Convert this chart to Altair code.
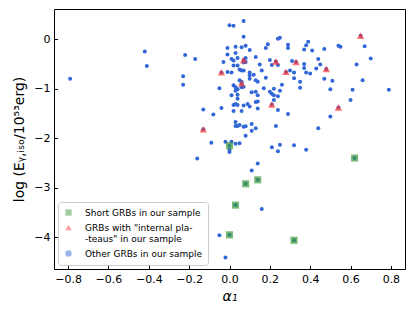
import altair as alt
import pandas as pd

# "Other GRBs in our sample"
blue_x = [-0.79, -0.42, -0.41, -0.22, -0.17, -0.23, -0.23, -0.13, -0.16, -0.08, -0.04, -0.09, -0.05,
          0.00, 0.02, 0.07, 0.07, 0.24, 0.25, 0.19, 0.18, 0.29, 0.29, 0.38, 0.39, 0.37, 0.41, 0.47,
          0.54, 0.55, 0.67, 0.70, 0.63, 0.66, 0.79, 0.61, 0.60, 0.50, 0.44, 0.51, 0.47, 0.50, 0.44,
          0.45, 0.43, 0.40, 0.38, 0.37, 0.37, 0.32, 0.32, 0.35, 0.35, 0.31, 0.30, 0.29, 0.24, 0.23,
          0.32, 0.38, 0.25, 0.24, 0.21, 0.20, 0.21, 0.24, 0.18, 0.26, 0.25, 0.22, 0.20, 0.21, 0.22,
          0.24, 0.22, 0.17, 0.16, 0.15, 0.13, 0.10, 0.08, 0.06, 0.03, 0.03, -0.01, -0.01, -0.03,
          0.01, 0.02, 0.02, 0.04, 0.04, 0.08, 0.08, 0.07, 0.05, 0.06, 0.07, 0.01, -0.01, 0.10, 0.10,
          0.12, 0.10, 0.13, 0.14, 0.05, 0.06, 0.02, 0.03, 0.04, 0.03, 0.04, 0.06, 0.07, 0.01, 0.11,
          0.13, 0.14, 0.13, 0.04, 0.02, 0.03, 0.04, 0.07, 0.09, 0.10, 0.14, 0.14, 0.02, 0.06, 0.03,
          0.04, 0.03, 0.05, 0.07, 0.08, 0.11, 0.13, 0.11, 0.08, -0.02, 0.01, 0.03, 0.05, 0.00, 0.00,
          0.14, 0.11, 0.16, -0.05, -0.02]
blue_y = [-0.80, -0.25, -0.54, -0.32, -0.40, -0.75, -0.92, -1.42, -2.41, -1.52, -1.39, -2.09, -0.99,
          0.28, 0.27, 0.37, 0.05, 0.01, 0.03, -0.10, -0.18, -0.11, -0.18, -0.12, -0.05, -0.21, -0.23, -0.20,
          -0.13, -0.15, -0.14, -0.39, -0.51, -0.83, -1.02, -1.02, -1.23, -1.56, -1.80, -0.84, -0.80, -1.01, -0.40,
          -0.51, -0.59, -0.69, -0.67, -0.50, -0.58, -0.67, -0.79, -0.86, -0.98, -0.44, -0.63, -1.51, -1.43, -1.75,
          -2.14, -2.23, -2.13, -2.26, -2.18, -0.42, -0.52, -0.52, -0.78, -0.92, -1.04, -1.00, -1.06, -1.10, -1.13,
          -1.15, -1.23, -0.99, -0.63, -0.51, -0.36, -0.22, -0.13, -0.16, -0.15, -0.28, -0.18, -0.31, -0.46,
          -0.40, -0.43, -0.53, -0.53, -0.38, -0.38, -0.46, -0.47, -0.61, -0.63, -0.63, -0.67, -0.66, -0.67, -0.73,
          -0.72, -0.80, -0.83, -0.86, -0.83, -0.86, -0.93, -0.97, -1.01, -1.04, -1.12, -0.97, -0.96, -1.13, -1.07,
          -1.06, -1.13, -1.27, -1.20, -1.33, -1.31, -1.33, -1.34, -1.31, -1.36, -1.40, -1.26, -1.45, -1.45, -1.67,
          -1.75, -1.75, -1.73, -1.77, -1.76, -1.71, -1.80, -1.85, -1.95, -2.07, -2.07, -2.11, -2.10, -2.23, -2.28,
          -2.51, -2.65, -3.43, -3.96, -4.41]

# GRBs with "internal plateaus"
red_x = [0.65, 0.07, 0.23, 0.33, 0.48, -0.04, 0.28, 0.06, 0.21, 0.54, -0.13]
red_y = [0.07, -0.42, -0.45, -0.46, -0.60, -0.67, -0.66, -0.89, -1.32, -1.38, -1.82]

# Short GRBs
green_x = [0.00, 0.62, 0.14, 0.08, 0.03, 0.00, 0.32]
green_y = [-2.15, -2.40, -2.84, -2.92, -3.35, -3.95, -4.06]

groups = ["Short GRBs in our sample",
          'GRBs with "internal pla-|-teaus" in our sample',
          "Other GRBs in our sample"]
colors = ["#3c9a3c", "#ff3333", "#3366d6"]
shapes = ["square", "triangle-up", "circle"]
sizes = [50, 55, 16]
opacities = [0.7, 0.7, 1.0]

x_ticks = [-0.8, -0.6, -0.4, -0.2, 0.0, 0.2, 0.4, 0.6, 0.8]
y_ticks = [-4, -3, -2, -1, 0]

rows = []
# whole sample drawn as blue dots first
for xv, yv in zip(blue_x + red_x + green_x, blue_y + red_y + green_y):
    rows.append({"a": xv, "e": yv, "g": groups[2], "s": sizes[2], "op": opacities[2]})
for xv, yv in zip(red_x, red_y):
    rows.append({"a": xv, "e": yv, "g": groups[1], "s": sizes[1], "op": opacities[1]})
for xv, yv in zip(green_x, green_y):
    rows.append({"a": xv, "e": yv, "g": groups[0], "s": sizes[0], "op": opacities[0]})
df = pd.DataFrame(rows)

FONT = "DejaVu Sans"

enc = dict(
    x=alt.X("a:Q",
            scale=alt.Scale(domain=[-0.87, 0.87], nice=False, zero=False),
            axis=alt.Axis(title="α₁", values=x_ticks, format=".1f", grid=False, domain=False,
                          offset=-3.5, tickSize=3.5, tickColor="black", labelPadding=4,
                          labelColor="black", labelFontSize=11, labelFont=FONT,
                          titleFont=FONT, titleFontSize=14, titleFontWeight="normal",
                          titleFontStyle="italic", titleColor="black", titlePadding=5)),
    y=alt.Y("e:Q",
            scale=alt.Scale(domain=[-4.64, 0.61], nice=False, zero=False),
            axis=alt.Axis(title="log (Eᵧ,ᵢₛₒ/10⁵³erg)", values=y_ticks, format="d", grid=False,
                          domain=False, offset=-3.5, tickSize=3.5, tickColor="black",
                          labelPadding=4, labelColor="black", labelFontSize=11, labelFont=FONT,
                          titleFont=FONT, titleFontSize=14, titleFontWeight="normal",
                          titleColor="black", titlePadding=7)),
    color=alt.Color("g:N", title=None,
                    scale=alt.Scale(domain=groups, range=colors),
                    legend=alt.Legend(orient="bottom-left", offset=4, fillColor="white",
                                      strokeColor="#cccccc", cornerRadius=3, padding=6,
                                      labelFont=FONT, labelFontSize=9, labelColor="black",
                                      labelExpr="split(datum.label, '|')",
                                      rowPadding=5, labelOffset=12, symbolStrokeWidth=0,
                                      symbolSize=40, symbolOpacity=0.75)),
    shape=alt.Shape("g:N", title=None, scale=alt.Scale(domain=groups, range=shapes)),
    size=alt.Size("s:Q", scale=None),
    opacity=alt.Opacity("op:Q", scale=None),
)

base = alt.Chart(df).mark_point(filled=True, strokeWidth=0).encode(**enc)
layers = [base.transform_filter(alt.datum.g == grp) for grp in [groups[2], groups[1], groups[0]]]

chart = alt.layer(*layers).properties(
    width=351, height=260,
    autosize=alt.AutoSizeParams(type="none"),
    padding={"left": 46, "top": 1, "right": 2, "bottom": 34},
).configure_view(stroke="black", strokeWidth=1)

chart.save("out.html", embed_options={"renderer": "svg", "actions": False})
